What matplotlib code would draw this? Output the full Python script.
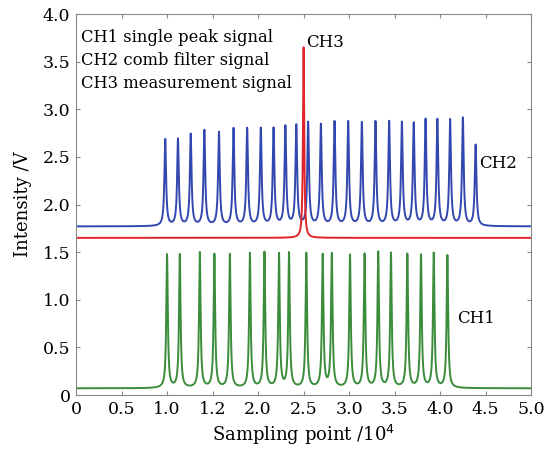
import numpy as np
import matplotlib
matplotlib.use("Agg")
import matplotlib.pyplot as plt

plt.rcParams['font.family'] = ['DejaVu Serif']

# peak positions (x 10^4 sampling points) and heights (V)
ch1_pos = [1.00, 1.14, 1.36, 1.52, 1.69, 1.91, 2.07, 2.23, 2.34, 2.53,
           2.71, 2.81, 3.01, 3.17, 3.32, 3.46, 3.64, 3.79, 3.93, 4.08]
ch1_amp = [1.47, 1.47, 1.49, 1.47, 1.47, 1.48, 1.49, 1.47, 1.48, 1.48,
           1.46, 1.47, 1.46, 1.47, 1.49, 1.48, 1.47, 1.46, 1.48, 1.46]
ch1_base = 0.07

ch2_pos = [0.98, 1.12, 1.26, 1.41, 1.57, 1.73, 1.88, 2.03, 2.17, 2.30,
           2.42, 2.55, 2.69, 2.84, 2.99, 3.14, 3.29, 3.44, 3.58, 3.71,
           3.84, 3.97, 4.11, 4.25, 4.39]
ch2_amp = [2.68, 2.68, 2.73, 2.77, 2.75, 2.79, 2.79, 2.79, 2.79, 2.81,
           2.82, 2.85, 2.83, 2.86, 2.86, 2.85, 2.86, 2.86, 2.85, 2.84,
           2.88, 2.88, 2.88, 2.90, 2.62]
ch2_base = 1.77

ch3_pos = [2.50]
ch3_amp = [3.65]
ch3_base = 1.65

x_ticks = [0, 0.5, 1.0, 1.5, 2.0, 2.5, 3.0, 3.5, 4.0, 4.5, 5.0]
x_labels = ['0', '0.5', '1.0', '1.2', '2.0', '2.5', '3.0', '3.5', '4.0', '4.5', '5.0']
y_ticks = [0, 0.5, 1.0, 1.5, 2.0, 2.5, 3.0, 3.5, 4.0]
y_labels = ['0', '0.5', '1.0', '1.5', '2.0', '2.5', '3.0', '3.5', '4.0']


def trace(x, pos, amp, base, width):
    # sum of lorentzian-shaped peaks sitting on a flat baseline
    y = np.full_like(x, base)
    for p, a in zip(pos, amp):
        y += (a - base) / (1 + ((x - p) / width) ** 2)
    return y


x = np.linspace(0, 5, 6001)

fig = plt.figure(figsize=(5.47, 4.53), dpi=100)
ax = fig.add_axes([0.139, 0.128, 0.832, 0.841])

ax.plot(x, trace(x, ch2_pos, ch2_amp, ch2_base, 0.011), color='#3347b0', lw=1.4)
ax.plot(x, trace(x, ch3_pos, ch3_amp, ch3_base, 0.008), color='#e0242a', lw=1.4)
ax.plot(x, trace(x, ch1_pos, ch1_amp, ch1_base, 0.010), color='#3b8c3b', lw=1.4)

ax.set_xlim(0, 5.0)
ax.set_ylim(0, 4.0)
ax.set_xticks(x_ticks)
ax.set_xticklabels(x_labels)
ax.set_yticks(y_ticks)
ax.set_yticklabels(y_labels)
ax.tick_params(direction='in', top=True, right=True, length=3, labelsize=12.5,
               color='#888888', pad=4)
for s in ax.spines.values():
    s.set_color('#888888')

ax.set_xlabel('Sampling point /10$^4$', fontsize=13)
ax.set_ylabel('Intensity /V', fontsize=13, labelpad=8)

ax.text(0.06, 3.84, 'CH1 single peak signal\nCH2 comb filter signal\nCH3 measurement signal',
        fontsize=11.8, va='top', ha='left', linespacing=1.45)
ax.text(2.53, 3.70, 'CH3', fontsize=12, va='center')
ax.text(4.43, 2.43, 'CH2', fontsize=12, va='center')
ax.text(4.19, 0.8, 'CH1', fontsize=12, va='center')

fig.savefig('out.png', dpi=100)
